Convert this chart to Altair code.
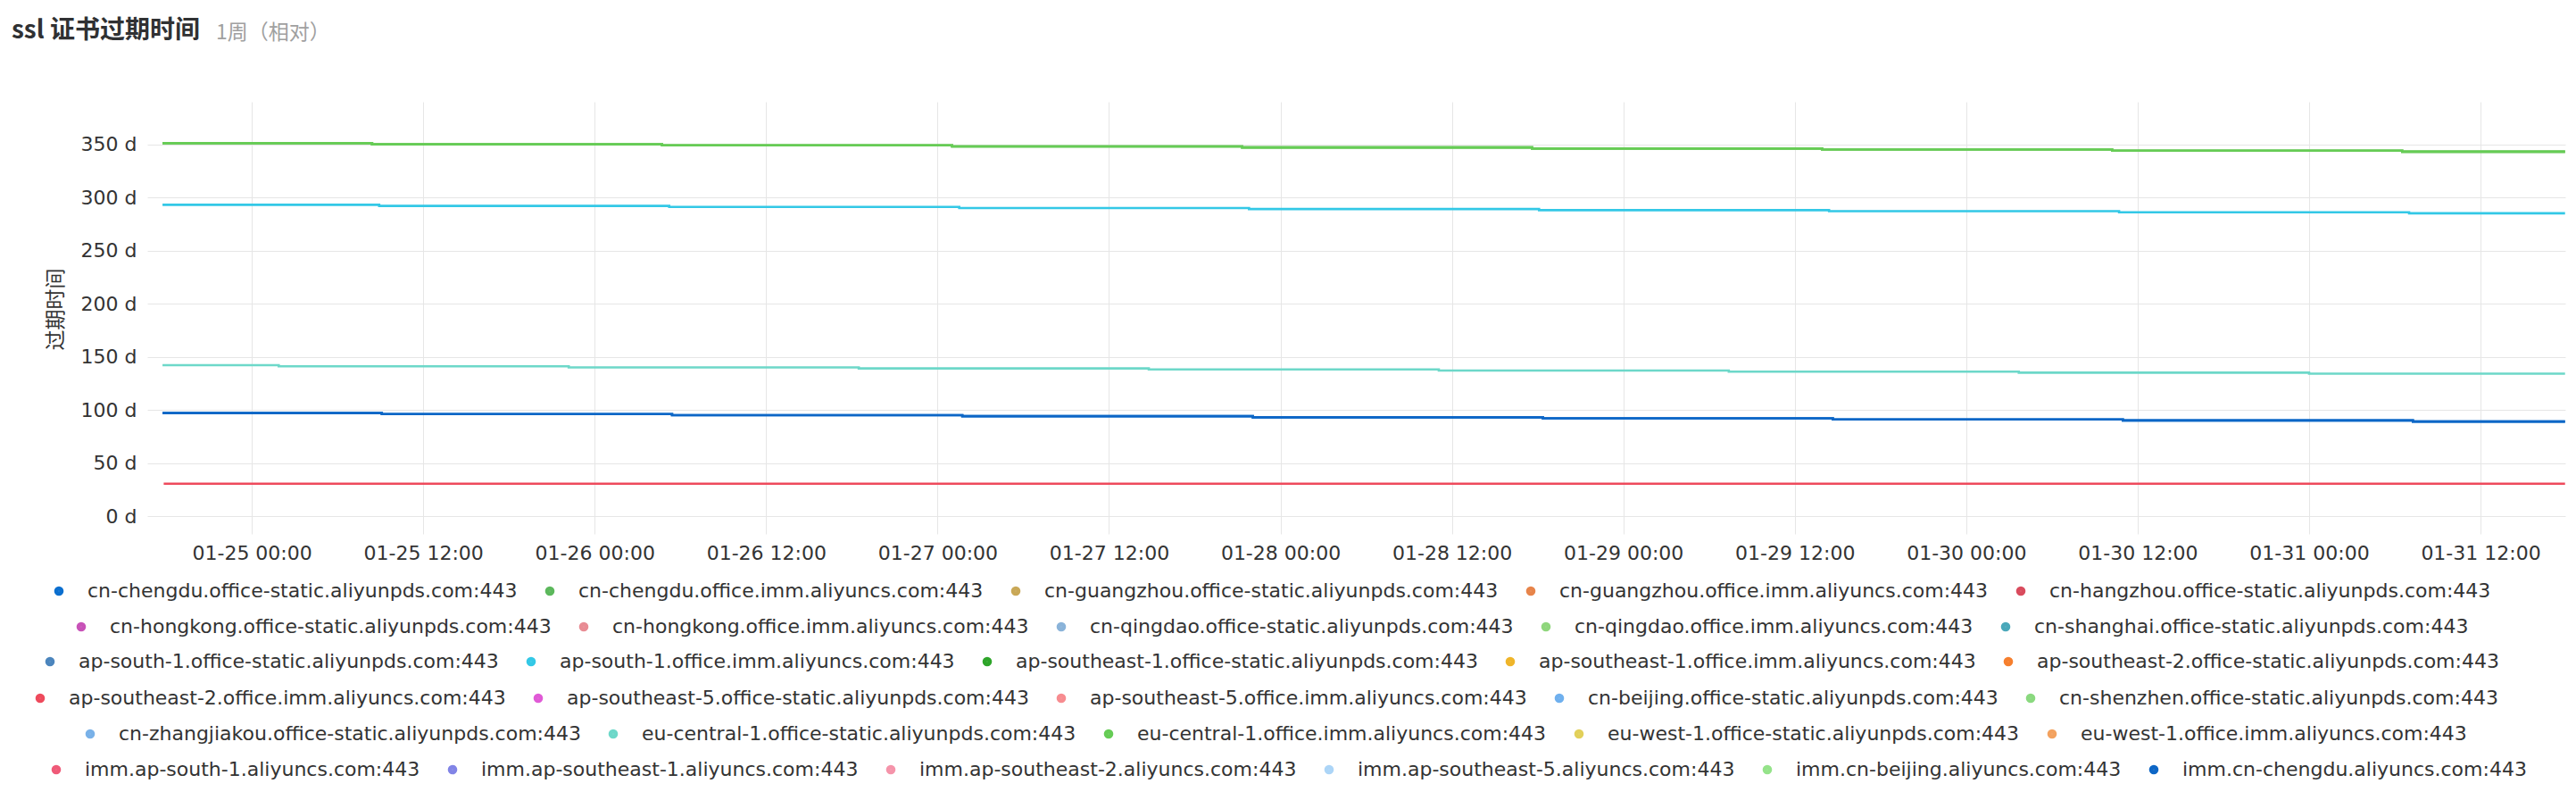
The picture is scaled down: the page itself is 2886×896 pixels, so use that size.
import altair as alt
import pandas as pd

TITLE = "ssl 证书过期时间"
SUBTITLE = "1周（相对）"
Y_TITLE = "过期时间"

series_names = [
    "cn-chengdu.office-static.aliyunpds.com:443",
    "cn-chengdu.office.imm.aliyuncs.com:443",
    "cn-guangzhou.office-static.aliyunpds.com:443",
    "cn-guangzhou.office.imm.aliyuncs.com:443",
    "cn-hangzhou.office-static.aliyunpds.com:443",
    "cn-hongkong.office-static.aliyunpds.com:443",
    "cn-hongkong.office.imm.aliyuncs.com:443",
    "cn-qingdao.office-static.aliyunpds.com:443",
    "cn-qingdao.office.imm.aliyuncs.com:443",
    "cn-shanghai.office-static.aliyunpds.com:443",
    "ap-south-1.office-static.aliyunpds.com:443",
    "ap-south-1.office.imm.aliyuncs.com:443",
    "ap-southeast-1.office-static.aliyunpds.com:443",
    "ap-southeast-1.office.imm.aliyuncs.com:443",
    "ap-southeast-2.office-static.aliyunpds.com:443",
    "ap-southeast-2.office.imm.aliyuncs.com:443",
    "ap-southeast-5.office-static.aliyunpds.com:443",
    "ap-southeast-5.office.imm.aliyuncs.com:443",
    "cn-beijing.office-static.aliyunpds.com:443",
    "cn-shenzhen.office-static.aliyunpds.com:443",
    "cn-zhangjiakou.office-static.aliyunpds.com:443",
    "eu-central-1.office-static.aliyunpds.com:443",
    "eu-central-1.office.imm.aliyuncs.com:443",
    "eu-west-1.office-static.aliyunpds.com:443",
    "eu-west-1.office.imm.aliyuncs.com:443",
    "imm.ap-south-1.aliyuncs.com:443",
    "imm.ap-southeast-1.aliyuncs.com:443",
    "imm.ap-southeast-2.aliyuncs.com:443",
    "imm.ap-southeast-5.aliyuncs.com:443",
    "imm.cn-beijing.aliyuncs.com:443",
    "imm.cn-chengdu.aliyuncs.com:443",
]

series_colors = [
    "#0b6fcf", "#5cb85c", "#c9a857", "#e7844a", "#d94b5d",
    "#c852b8", "#e88c94", "#8ab3d9", "#8fd67c", "#4aa8ba",
    "#4b85bd", "#33c8e6", "#2ea52a", "#efb52a", "#f67f2e",
    "#ee4a5c", "#e05ad6", "#f78c90", "#6fb0ee", "#8ad97f",
    "#79b1e8", "#6dd8c9", "#66cc55", "#e2d05a", "#f3a25f",
    "#ef5a78", "#8184e6", "#f594aa", "#acd5f7", "#95e38a", "#0d66c6",
]

legend_row_sizes = [5, 5, 5, 5, 5, 6]

# step-line values (time of each change, days remaining)
green_times = ["2025-01-24T17:45", "2025-01-25T08:25", "2025-01-26T04:43", "2025-01-27T01:01",
               "2025-01-27T21:19", "2025-01-28T17:37", "2025-01-29T13:55", "2025-01-30T10:13",
               "2025-01-31T06:31", "2025-01-31T17:55"]
green_days = [351, 350, 349, 348, 347, 346, 345, 344, 343, 343]

cyan_times = ["2025-01-24T17:45", "2025-01-25T08:55", "2025-01-26T05:13", "2025-01-27T01:31",
              "2025-01-27T21:48", "2025-01-28T18:06", "2025-01-29T14:24", "2025-01-30T10:42",
              "2025-01-31T07:00", "2025-01-31T17:55"]
cyan_days = [293, 292, 291, 290, 289, 288, 287, 286, 285, 285]

teal_times = ["2025-01-24T17:45", "2025-01-25T01:53", "2025-01-25T22:11", "2025-01-26T18:29",
              "2025-01-27T14:47", "2025-01-28T11:05", "2025-01-29T07:23", "2025-01-30T03:41",
              "2025-01-31T00:00", "2025-01-31T17:55"]
teal_days = [142, 141, 140, 139, 138, 137, 136, 135, 134, 134]

blue_times = ["2025-01-24T17:45", "2025-01-25T09:06", "2025-01-26T05:25", "2025-01-27T01:44",
              "2025-01-27T22:04", "2025-01-28T18:22", "2025-01-29T14:40", "2025-01-30T10:58",
              "2025-01-31T07:16", "2025-01-31T17:55"]
blue_days = [97, 96, 95, 94, 93, 92, 91, 90, 89, 89]

red_times = ["2025-01-24T17:50", "2025-01-31T17:55"]
red_days = [30.5, 30.5]

green_members = ["cn-chengdu.office.imm.aliyuncs.com:443",
                 "cn-qingdao.office.imm.aliyuncs.com:443",
                 "eu-central-1.office.imm.aliyuncs.com:443"]
cyan_members = ["ap-south-1.office.imm.aliyuncs.com:443"]
teal_members = ["eu-central-1.office-static.aliyunpds.com:443"]
blue_members = ["cn-chengdu.office-static.aliyunpds.com:443",
                "imm.cn-chengdu.aliyuncs.com:443"]
red_members = ["ap-southeast-2.office.imm.aliyuncs.com:443"]

x_domain = ["2025-01-24T16:41", "2025-01-31T17:56"]
x_ticks = ["2025-01-25T00:00", "2025-01-25T12:00", "2025-01-26T00:00", "2025-01-26T12:00",
           "2025-01-27T00:00", "2025-01-27T12:00", "2025-01-28T00:00", "2025-01-28T12:00",
           "2025-01-29T00:00", "2025-01-29T12:00", "2025-01-30T00:00", "2025-01-30T12:00",
           "2025-01-31T00:00", "2025-01-31T12:00"]
y_domain = [0, 390]
y_ticks = [0, 50, 100, 150, 200, 250, 300, 350]

# ---------------------------------------------------------------- layout / style
PLOT_W, PLOT_H = 2709, 464
PLOT_X0, PLOT_Y0 = 165, 114          # page position of plot origin
LEGEND_FIRST_DOT_X = [60, 85, 50, 39, 95, 57]      # page x of first legend dot per row
LEGEND_ROW_Y = [662, 702, 741, 782, 822, 862]      # page y of legend row centers
LABEL_FONT = "DejaVu Sans"
CJK_FONT = "Noto Sans CJK SC"
GRID = "#e6e6e6"
TEXT = "#333333"
# legend dot drawn as concentric stroked rings so it reads as a filled disc
DOT_PATH = " ".join(
    f"M {-r} 0 A {r} {r} 0 1 0 {r} 0 A {r} {r} 0 1 0 {-r} 0 Z"
    for r in (1.0, 0.75, 0.5, 0.25, 0.05)
)


def dt(s):
    t = pd.Timestamp(s)
    return alt.DateTime(year=t.year, month=t.month, date=t.day, hours=t.hour, minutes=t.minute)


records = []
for members, times, days in [
    (green_members, green_times, green_days),
    (cyan_members, cyan_times, cyan_days),
    (teal_members, teal_times, teal_days),
    (blue_members, blue_times, blue_days),
    (red_members, red_times, red_days),
]:
    for m in members:
        for t, d in zip(times, days):
            records.append({"series": m, "time": t, "days": d})
df = pd.DataFrame(records)

x_enc = alt.X(
    "time:T",
    title=None,
    scale=alt.Scale(domain=[dt(x_domain[0]), dt(x_domain[1])]),
    axis=alt.Axis(values=[dt(t) for t in x_ticks], format="%m-%d %H:%M", grid=True,
                  ticks=True, tickSize=20, tickColor=GRID, domain=False,
                  labelPadding=11, labelOverlap=False, labelFlush=False),
)
y_enc = alt.Y(
    "days:Q",
    title=Y_TITLE,
    scale=alt.Scale(domain=y_domain, nice=False, zero=True),
    axis=alt.Axis(values=y_ticks, labelExpr="datum.value + ' d'", grid=True, ticks=False,
                  domain=False, labelPadding=12, titlePadding=16),
)

layers = []
start = 0
for r, n in enumerate(legend_row_sizes):
    names = series_names[start:start + n]
    cols = series_colors[start:start + n]
    start += n
    sub = df[df["series"].isin(names)]
    layers.append(
        alt.Chart(sub)
        .mark_line(interpolate="step-after")
        .encode(
            x=x_enc,
            y=y_enc,
            strokeWidth=alt.value(2.6),
            color=alt.Color(
                "series:N",
                scale=alt.Scale(domain=names, range=cols),
                legend=alt.Legend(
                    orient="none",
                    direction="horizontal",
                    columns=n,
                    title=None,
                    symbolType=DOT_PATH,
                    legendX=LEGEND_FIRST_DOT_X[r] - 5 - PLOT_X0,
                    legendY=LEGEND_ROW_Y[r] - 11 - PLOT_Y0,
                ),
            ),
        )
    )

title_layer = (
    alt.Chart(pd.DataFrame({"label": [TITLE]}))
    .mark_text(align="left", baseline="middle", font=CJK_FONT, fontSize=28,
               fontWeight="bold", color="#303133")
    .encode(x=alt.value(13 - PLOT_X0), y=alt.value(35 - PLOT_Y0), text="label:N")
)
subtitle_layer = (
    alt.Chart(pd.DataFrame({"label": [SUBTITLE]}))
    .mark_text(align="left", baseline="middle", font=CJK_FONT, fontSize=23, color="#a0a0a0")
    .encode(x=alt.value(242 - PLOT_X0), y=alt.value(37 - PLOT_Y0), text="label:N")
)

chart = (
    alt.layer(*layers, title_layer, subtitle_layer)
    .resolve_scale(color="independent")
    .resolve_legend(color="independent")
    .properties(
        width=PLOT_W,
        height=PLOT_H,
        autosize=alt.AutoSizeParams(type="none"),
        padding={"left": PLOT_X0 - 8, "top": PLOT_Y0 - 8, "right": 1, "bottom": 300},
        background="white",
    )
    .configure_view(stroke=None)
    .configure_axis(
        gridColor=GRID,
        gridWidth=1,
        labelFont=LABEL_FONT,
        labelFontSize=22,
        labelColor=TEXT,
        titleFont=CJK_FONT,
        titleFontSize=23,
        titleFontWeight="normal",
        titleColor=TEXT,
    )
    .configure_legend(
        labelFont=LABEL_FONT,
        labelFontSize=22,
        labelColor=TEXT,
        labelLimit=1000,
        symbolSize=64,
        symbolStrokeWidth=2.6,
        labelOffset=21,
        columnPadding=25,
        padding=0,
    )
)

chart.save("out.html", embed_options={"renderer": "svg", "actions": False})
